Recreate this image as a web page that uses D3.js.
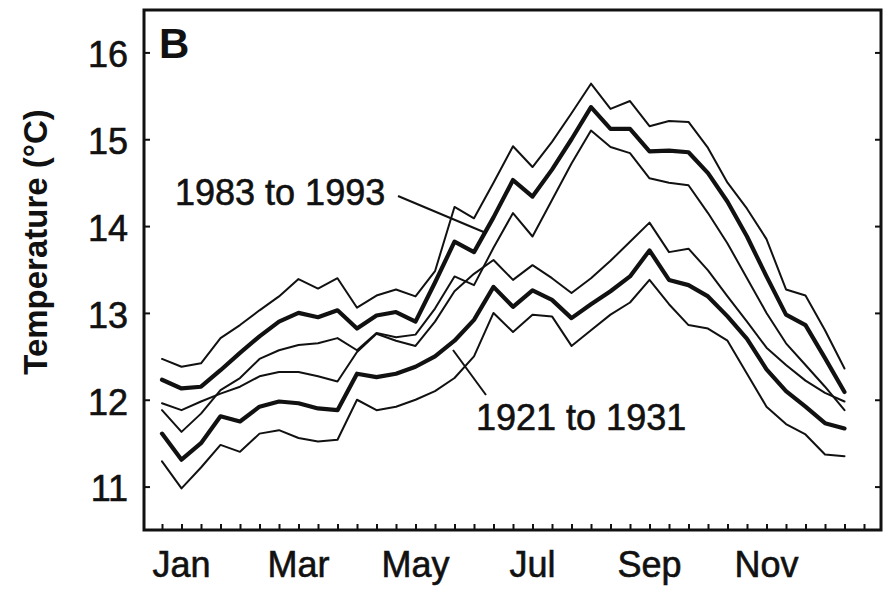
<!DOCTYPE html>
<html>
<head>
<meta charset="utf-8">
<script src="https://cdn.jsdelivr.net/npm/d3@7"></script>
<style>
  html, body { margin: 0; padding: 0; background: #fff; }
  svg { display: block; font-family: "Liberation Sans", Arial, Helvetica, sans-serif; }
</style>
</head>
<body>
<svg id="chart" width="888" height="589"></svg>
<script>
// ---- data (10-day periods, Jan 1 .. Dec 31) ----
const monthLabels = ["Jan", "Mar", "May", "Jul", "Sep", "Nov"];
const monthIndex  = [1, 7, 13, 19, 25, 31];
const yTicks = [11, 12, 13, 14, 15, 16];

const mean1983  = [12.23, 12.13, 12.15, 12.34, 12.54, 12.73, 12.90, 13.00, 12.95, 13.03, 12.82, 12.97, 13.01, 12.90, 13.35, 13.82, 13.70, 14.10, 14.53, 14.34, 14.65, 15.00, 15.37, 15.12, 15.12, 14.86, 14.87, 14.85, 14.61, 14.28, 13.88, 13.42, 12.98, 12.86, 12.48, 12.09];
const upper1983 = [12.47, 12.38, 12.42, 12.71, 12.86, 13.03, 13.19, 13.39, 13.28, 13.40, 13.06, 13.20, 13.27, 13.19, 13.48, 14.22, 14.09, 14.50, 14.92, 14.68, 14.97, 15.30, 15.64, 15.35, 15.44, 15.15, 15.21, 15.20, 14.90, 14.50, 14.20, 13.85, 13.27, 13.20, 12.80, 12.36];
const lower1983 = [11.88, 11.63, 11.84, 12.11, 12.25, 12.47, 12.57, 12.63, 12.65, 12.71, 12.57, 12.77, 12.72, 12.75, 13.05, 13.42, 13.32, 13.75, 14.15, 13.88, 14.30, 14.72, 15.10, 14.91, 14.84, 14.55, 14.50, 14.47, 14.15, 13.80, 13.40, 13.00, 12.65, 12.40, 12.15, 11.88];

const mean1921  = [11.61, 11.31, 11.50, 11.81, 11.75, 11.92, 11.98, 11.96, 11.90, 11.88, 12.30, 12.26, 12.30, 12.38, 12.50, 12.68, 12.92, 13.30, 13.07, 13.26, 13.15, 12.94, 13.10, 13.25, 13.42, 13.72, 13.38, 13.32, 13.19, 12.96, 12.70, 12.35, 12.10, 11.92, 11.73, 11.67];
const upper1921 = [11.96, 11.88, 11.98, 12.07, 12.15, 12.27, 12.32, 12.32, 12.27, 12.21, 12.55, 12.76, 12.68, 12.62, 12.90, 13.25, 13.45, 13.61, 13.38, 13.55, 13.40, 13.23, 13.40, 13.60, 13.82, 14.04, 13.70, 13.74, 13.49, 13.19, 12.90, 12.60, 12.40, 12.22, 12.08, 11.98];
const lower1921 = [11.29, 10.98, 11.22, 11.48, 11.40, 11.61, 11.65, 11.56, 11.52, 11.54, 12.00, 11.88, 11.92, 12.00, 12.10, 12.25, 12.50, 13.00, 12.78, 12.98, 12.96, 12.62, 12.80, 12.98, 13.12, 13.38, 13.10, 12.86, 12.82, 12.68, 12.30, 11.92, 11.72, 11.60, 11.37, 11.35];

const seriesList = [
  { name: "upper1983", values: upper1983, thick: false },
  { name: "mean1983",  values: mean1983,  thick: true  },
  { name: "lower1983", values: lower1983, thick: false },
  { name: "upper1921", values: upper1921, thick: false },
  { name: "mean1921",  values: mean1921,  thick: true  },
  { name: "lower1921", values: lower1921, thick: false }
];

// ---- layout ----
const frame = { left: 144, right: 881, top: 10, bottom: 530 };
const ink = "#111";
const svg = d3.select("#chart");

const x = d3.scaleLinear().domain([0, 36]).range([162, 864]);
const y = d3.scaleLinear().domain([10.5, 16.5]).range([frame.bottom, 9]);

// lines
const line = d3.line().x((d, i) => x(i)).y(d => y(d));
svg.append("g").selectAll("path")
  .data(seriesList)
  .join("path")
  .attr("d", d => line(d.values))
  .attr("fill", "none")
  .attr("stroke", ink)
  .attr("stroke-width", d => d.thick ? 4.2 : 2)
  .attr("stroke-linejoin", "round")
  .attr("stroke-linecap", "round");

// bottom ticks (inside, one per 10-day period)
const bottomAxis = d3.axisBottom(x).tickValues(d3.range(0, 37)).tickSize(-6).tickFormat("");
svg.append("g")
  .attr("transform", `translate(0,${frame.bottom})`)
  .call(bottomAxis)
  .call(g => g.select(".domain").remove())
  .call(g => g.selectAll("line").attr("stroke", ink).attr("stroke-width", 2));

// month labels
svg.append("g").selectAll("text")
  .data(monthLabels)
  .join("text")
  .attr("x", (d, i) => x(monthIndex[i]))
  .attr("y", 577)
  .attr("text-anchor", "middle")
  .attr("font-size", 36)
  .attr("fill", ink)
  .attr("stroke", ink).attr("stroke-width", 0.6)
  .text(d => d);

// left ticks and labels
const leftAxis = d3.axisLeft(y).tickValues(yTicks).tickSize(-6).tickPadding(16).tickFormat(d3.format("d"));
svg.append("g")
  .attr("transform", `translate(${frame.left},0)`)
  .call(leftAxis)
  .call(g => g.select(".domain").remove())
  .call(g => g.selectAll("line").attr("stroke", ink).attr("stroke-width", 2))
  .call(g => g.selectAll("text")
      .attr("font-size", 36)
      .attr("font-family", "'Liberation Sans', Arial, sans-serif")
      .attr("fill", ink)
      .attr("stroke", ink).attr("stroke-width", 0.6)
      .attr("dy", "0.4em"));

// right ticks
const rightAxis = d3.axisRight(y).tickValues(yTicks).tickSize(-6).tickFormat("");
svg.append("g")
  .attr("transform", `translate(${frame.right},0)`)
  .call(rightAxis)
  .call(g => g.select(".domain").remove())
  .call(g => g.selectAll("line").attr("stroke", ink).attr("stroke-width", 2));

// frame
svg.append("rect")
  .attr("x", frame.left).attr("y", frame.top)
  .attr("width", frame.right - frame.left)
  .attr("height", frame.bottom - frame.top)
  .attr("fill", "none")
  .attr("stroke", ink)
  .attr("stroke-width", 3);

// panel letter
svg.append("text")
  .attr("x", 159).attr("y", 58)
  .attr("font-size", 42).attr("font-weight", "bold")
  .attr("fill", ink)
  .text("B");

// y-axis title
svg.append("text")
  .attr("transform", "translate(47,242) rotate(-90)")
  .attr("text-anchor", "middle")
  .attr("font-size", 33).attr("font-weight", "bold")
  .attr("fill", ink)
  .text("Temperature (°C)");

// annotations
svg.append("text")
  .attr("x", 175).attr("y", 205)
  .attr("font-size", 36).attr("fill", ink)
  .attr("stroke", ink).attr("stroke-width", 0.6)
  .text("1983 to 1993");
svg.append("line")
  .attr("x1", 398).attr("y1", 196).attr("x2", 486).attr("y2", 233)
  .attr("stroke", ink).attr("stroke-width", 2);

svg.append("text")
  .attr("x", 476).attr("y", 430)
  .attr("font-size", 36).attr("fill", ink)
  .attr("stroke", ink).attr("stroke-width", 0.6)
  .text("1921 to 1931");
svg.append("line")
  .attr("x1", 453).attr("y1", 350).attr("x2", 486).attr("y2", 395)
  .attr("stroke", ink).attr("stroke-width", 2);
</script>
</body>
</html>
